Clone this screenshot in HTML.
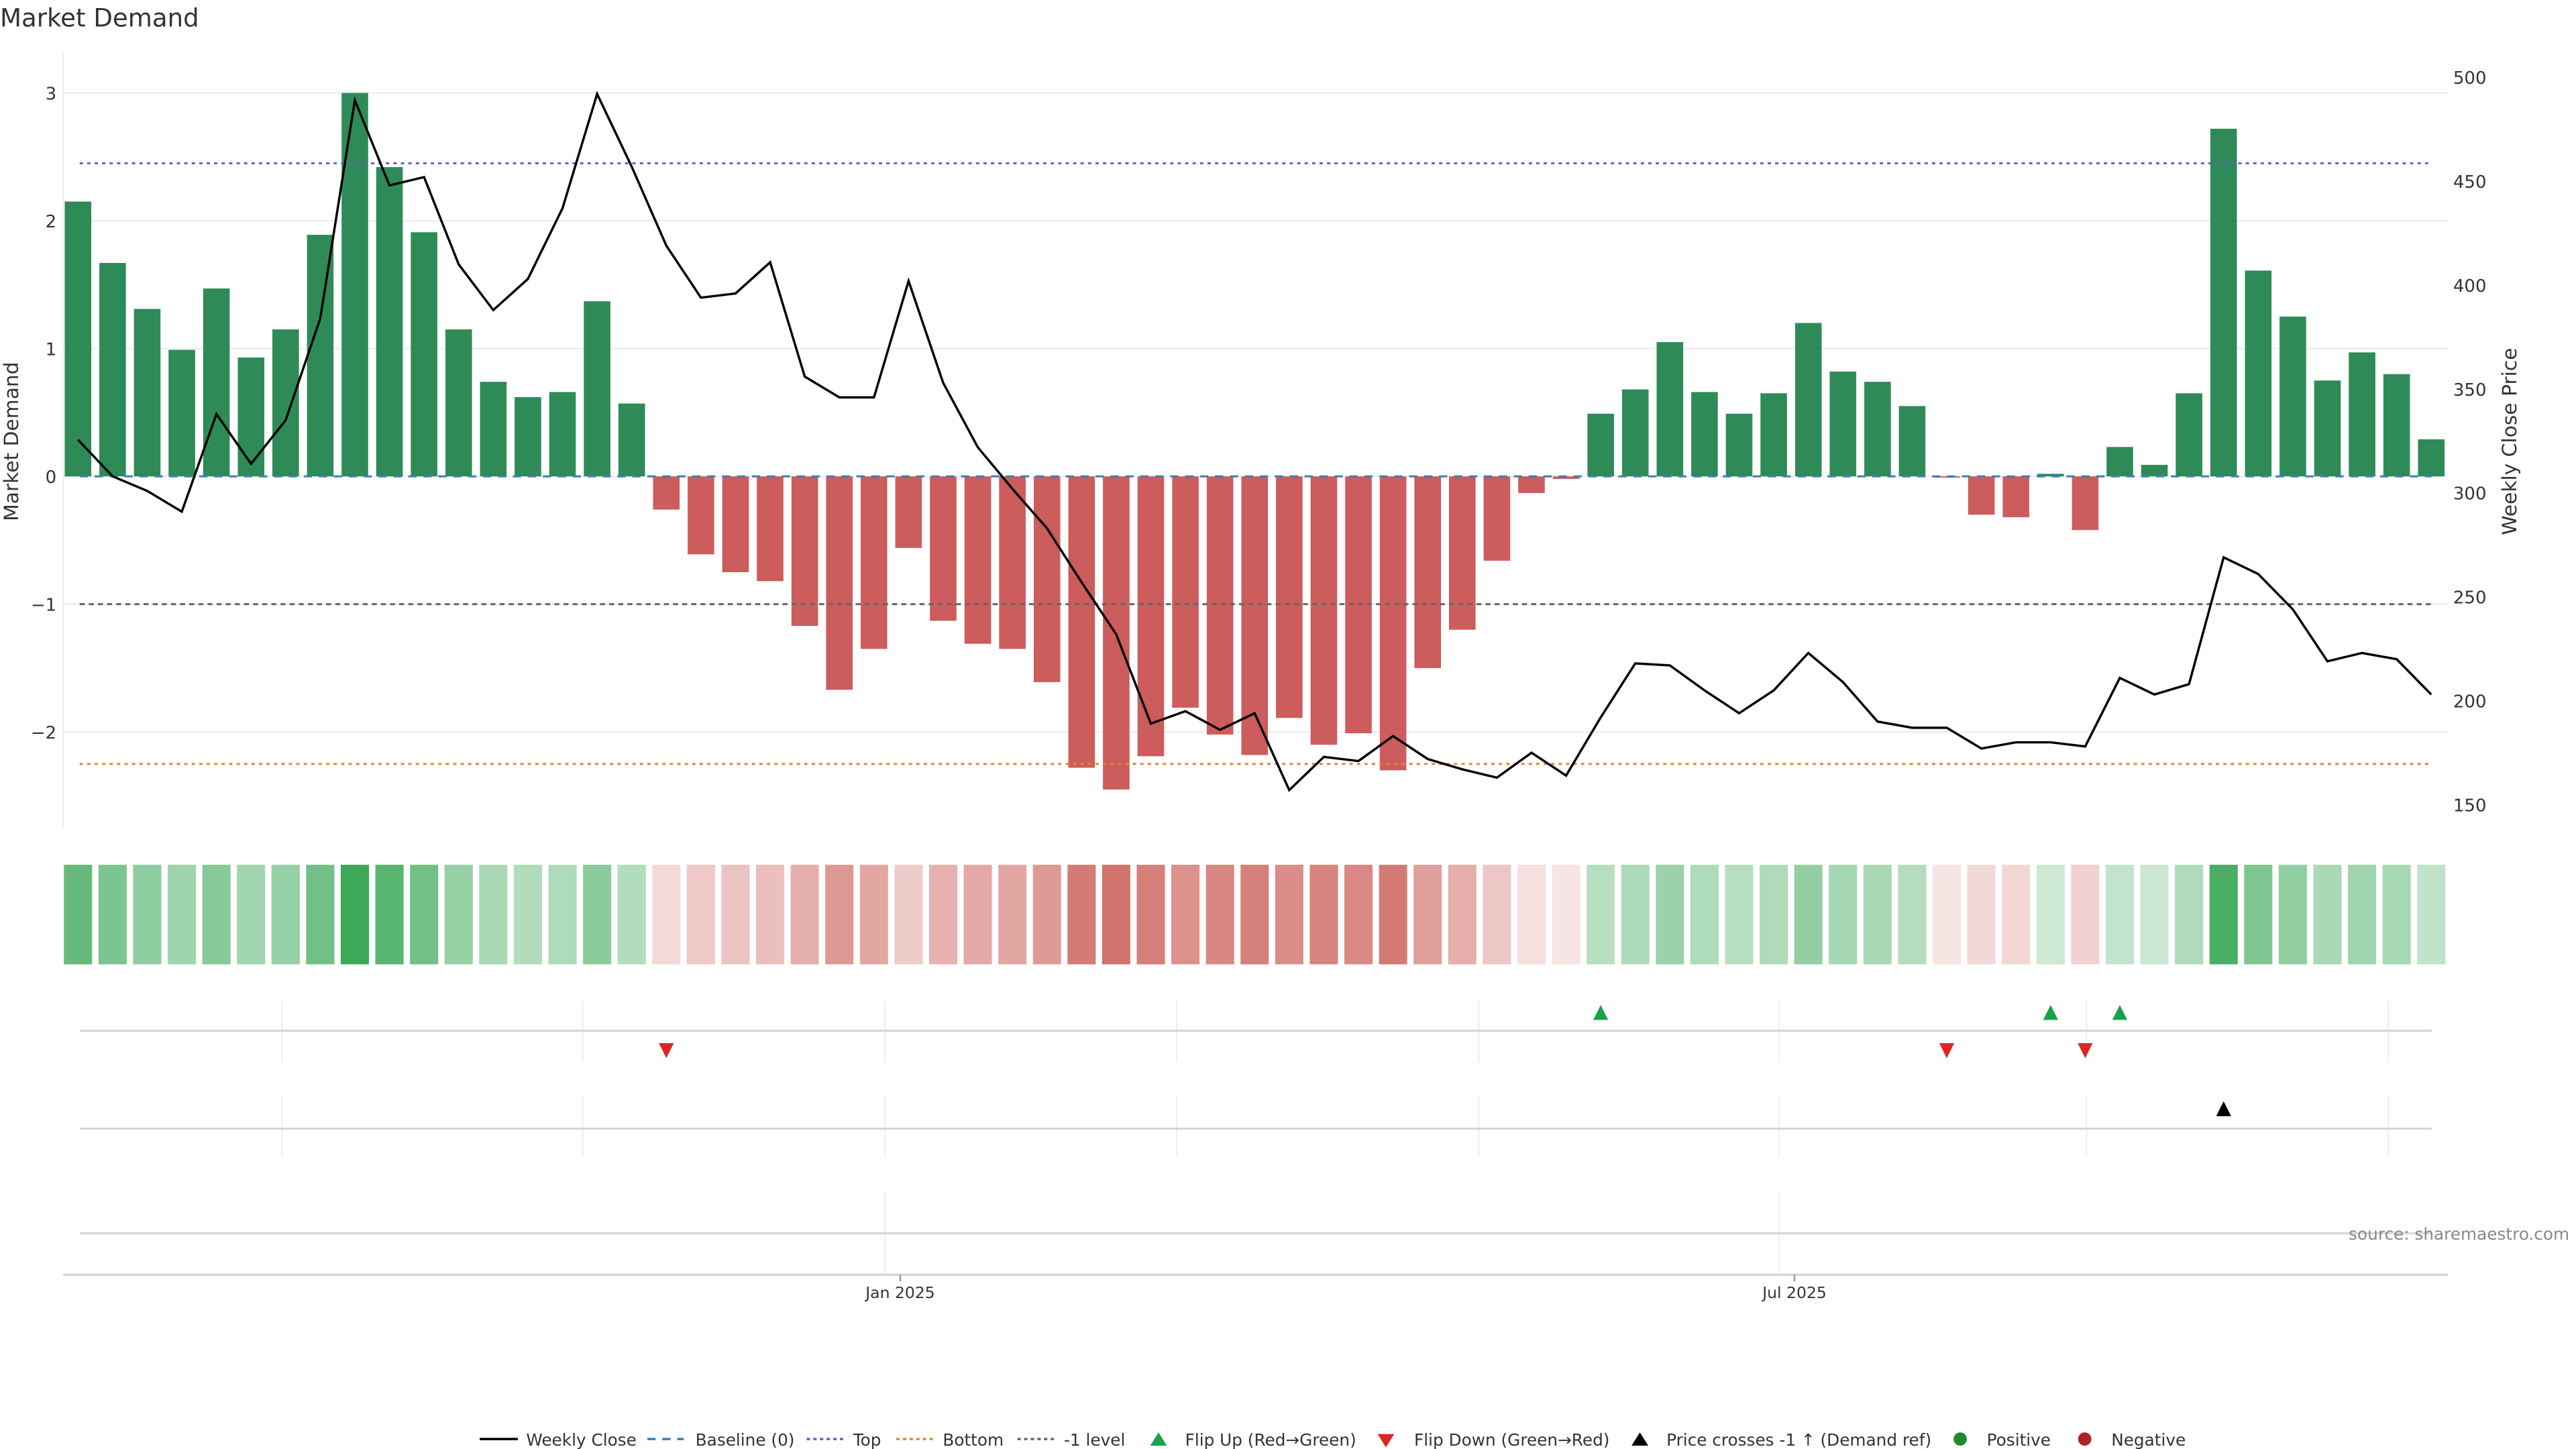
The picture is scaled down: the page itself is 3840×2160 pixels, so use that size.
<!DOCTYPE html>
<html><head><meta charset="utf-8"><title>Market Demand</title>
<style>
html,body{margin:0;padding:0;background:#fff;}
svg{display:block;font-family:"DejaVu Sans","Liberation Sans",sans-serif;}
</style></head>
<body>
<svg id="chart" width="3840" height="2160" viewBox="0 0 1552 873" preserveAspectRatio="none" xmlns="http://www.w3.org/2000/svg">
<text x="0" y="16" font-size="15" fill="#333">Market Demand</text>
<g id="grid"></g>
<g id="bars"></g>
<g id="refs"></g>
<g id="line"></g>
<g id="heat"></g>
<g id="events"></g>
<g id="axes"></g>
<g id="legend"></g>
</svg>
<script>
const demand = [2.15,1.67,1.31,0.99,1.47,0.93,1.15,1.89,3.0,2.42,1.91,1.15,0.74,0.62,0.66,1.37,0.57,
-0.26,-0.61,-0.75,-0.82,-1.17,-1.67,-1.35,-0.56,-1.13,-1.31,-1.35,-1.61,-2.28,-2.45,-2.19,-1.81,-2.02,-2.18,-1.89,-2.10,-2.01,-2.30,-1.50,-1.20,-0.66,-0.13,-0.02,
0.49,0.68,1.05,0.66,0.49,0.65,1.20,0.82,0.74,0.55,-0.01,-0.30,-0.32,0.02,-0.42,0.23,0.09,0.65,2.72,1.61,1.25,0.75,0.97,0.80,0.29];
const price = [325.6,308,301,291,338,314,335,384,489,448,452,410,388,403,437,492,457,419,394,396,411,356,346,346,402,353,322,302,283,257,232,189,195,186,194,157,173,171,183,172,167,163,175,164,192,218,217,205,194,205,223,209,190,187,187,177,180,180,178,211,203,208,269,261,244,219,223,220,203];
const flipUp = [44,57,59];
const flipDown = [17,54,58];
const priceCross = [62];
const leftTicks = [3,2,1,0,-1,-2];
const leftTickLabels = ["3","2","1","0","\u22121","\u22122"];
const rightTicks = [500,450,400,350,300,250,200,150];
const topLevel = 2.45, bottomLevel = -2.25, minusOne = -1;
const xTickLabels = ["Jan 2025","Jul 2025"];
const xTickIdx = [23.76,49.6];

const NS="http://www.w3.org/2000/svg";
function mk(tag,attrs,parent,text){const e=document.createElementNS(NS,tag);for(const k in attrs)e.setAttribute(k,attrs[k]);if(text!==undefined)e.textContent=text;parent.appendChild(e);return e;}
const X0=47, DX=20.85, BW=16;
const xS=i=>X0+i*DX;
const yL=v=>287-77*v;
const yR=p=>297-(p-300)*1.252;
const g=id=>document.getElementById(id);

// grid
leftTicks.forEach(t=>{const l=mk('line',{x1:38,x2:1475,y1:yL(t),y2:yL(t),stroke:'#eeeeee','stroke-width':1},g('grid'));

});
mk('line',{x1:38,x2:38,y1:32,y2:498,stroke:'#eeeeee','stroke-width':1},g('grid'));

// bars
demand.forEach((v,i)=>{const y=Math.min(yL(v),yL(0)),h=Math.abs(yL(v)-yL(0));
const r=mk('rect',{x:xS(i)-BW/2,y:y,width:BW,height:Math.max(h,0.6),fill:v>=0?'#2e8b57':'#cd5c5c'},g('bars'));

});

// reference lines
function ref(v,color,dash,name){const l=mk('line',{x1:48,x2:1465,y1:yL(v),y2:yL(v),stroke:color,'stroke-width':1.2,'stroke-dasharray':dash},g('refs'));

}
ref(0,'#3a7fb5','5 4','baseline-line');
ref(topLevel,'#6a5acd','2 2.5','top-line');
ref(bottomLevel,'#e08a2c','2 2.5','bottom-line');
ref(minusOne,'#666','3 2.5','minus-one-line');

// price line
const pts=price.map((p,i)=>xS(i)+','+yR(p)).join(' ');
const pl=mk('polyline',{points:pts,fill:'none',stroke:'#000','stroke-width':1.4,'stroke-linejoin':'miter'},g('line'));



// heat strip
function mix(c,t){return 'rgb('+c.map(x=>Math.round(255+(x-255)*t)).join(',')+')';}
demand.forEach((v,i)=>{let col;
if(v>=0){col=mix([60,168,88],Math.min(1,0.25+0.75*v/3));}else{col=mix([210,115,110],Math.min(1,0.18+0.82*Math.abs(v)/2.45));}
const r=mk('rect',{x:xS(i)-8.5,y:521,width:17,height:60,fill:col},g('heat'));

});

// event rows
const ev=g('events');
const vgrid=[170,351,533,709,891,1072,1257,1439];
vgrid.forEach(x=>{mk('line',{x1:x,x2:x,y1:603,y2:640,stroke:'#f0f0f0'},ev);mk('line',{x1:x,x2:x,y1:660,y2:697,stroke:'#f0f0f0'},ev);});
[533,1072].forEach(x=>mk('line',{x1:x,x2:x,y1:718,y2:768,stroke:'#f0f0f0'},ev));
[621,680,743].forEach(y=>mk('line',{x1:48,x2:1465,y1:y,y2:y,stroke:'#d6d6d6','stroke-width':1.2},ev));
function tri(x,y,up,color,name){const s=4.5;const p=up?`${x-s},${y+s} ${x+s},${y+s} ${x},${y-s}`:`${x-s},${y-s} ${x+s},${y-s} ${x},${y+s}`;
const t=mk('polygon',{points:p,fill:color},ev);

}
flipUp.forEach(i=>tri(xS(i),610,true,'#16a34a','flip-up-marker'));
flipDown.forEach(i=>tri(xS(i),633,false,'#dc2626','flip-down-marker'));
priceCross.forEach(i=>tri(xS(i),668,true,'#000','price-cross-marker'));
mk('text',{x:1548,y:747,'font-size':10,fill:'#888','text-anchor':'end',},ev,'source: sharemaestro.com');

// axes
const ax=g('axes');
leftTicks.forEach((t,k)=>mk('text',{x:34,y:yL(t)+4,'font-size':10.5,fill:'#333','text-anchor':'end',},ax,leftTickLabels[k]));
rightTicks.forEach(t=>mk('text',{x:1478,y:yR(t)+4,'font-size':10.5,fill:'#333',},ax,String(t)));
mk('text',{x:0,y:0,'font-size':12,fill:'#333','text-anchor':'middle',transform:'translate(11,266) rotate(-90)',},ax,'Market Demand');
mk('text',{x:0,y:0,'font-size':12,fill:'#333','text-anchor':'middle',transform:'translate(1516,266) rotate(-90)',},ax,'Weekly Close Price');
mk('line',{x1:38,x2:1475,y1:768,y2:768,stroke:'#d0d0d0','stroke-width':1.2},ax);
xTickLabels.forEach((l,k)=>{const x=xS(xTickIdx[k]);mk('line',{x1:x,x2:x,y1:768,y2:772,stroke:'#999'},ax);
mk('text',{x:x,y:782,'font-size':9.5,fill:'#333','text-anchor':'middle',},ax,l);});

// legend
const lg=g('legend');const LY=867;
function lt(x,s){mk('text',{x:x,y:LY+4,'font-size':10,fill:'#333',},lg,s);}
function ll(x1,x2,c,d,w){mk('line',{x1:x1,x2:x2,y1:LY,y2:LY,stroke:c,'stroke-width':w||1.4,'stroke-dasharray':d||'none'},lg);}
ll(289,312,'#000');lt(317,'Weekly Close');
ll(390,412,'#3a7fb5','5 4');lt(419,'Baseline (0)');
ll(486,508,'#6a5acd','2 2');lt(514,'Top');
ll(540,562,'#e08a2c','2 2');lt(568,'Bottom');
ll(613,636,'#666','2 2');lt(641,'-1 level');
mk('polygon',{points:'693,871 703,871 698,863',fill:'#16a34a'},lg);lt(714,'Flip Up (Red\u2192Green)');
mk('polygon',{points:'830,864 840,864 835,872',fill:'#dc2626'},lg);lt(852,'Flip Down (Green\u2192Red)');
mk('polygon',{points:'983,871 993,871 988,863',fill:'#000'},lg);lt(1004,'Price crosses -1 \u2191 (Demand ref)');
mk('circle',{cx:1181,cy:LY,r:4,fill:'#1e8a2e'},lg);lt(1197,'Positive');
mk('circle',{cx:1256,cy:LY,r:4,fill:'#b02323'},lg);lt(1272,'Negative');
</script>
</body></html>
